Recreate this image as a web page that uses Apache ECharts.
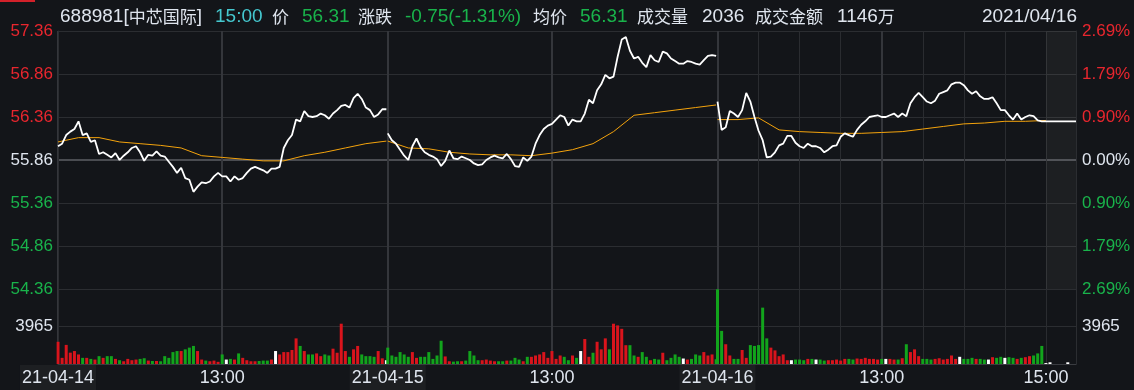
<!DOCTYPE html>
<html><head><meta charset="utf-8">
<script src="https://cdn.jsdelivr.net/npm/echarts@6/dist/echarts.min.js"></script>
<style>html,body{margin:0;padding:0;background:#131519;overflow:hidden}#c{width:1134px;height:390px}</style>
</head><body><div id="c"></div>
<script>
// ---------- data ----------
const dates = ['21-04-14', '21-04-15', '21-04-16'];
const preClose = 55.86;
const priceTicks = [54.36, 54.86, 55.36, 55.86, 56.36, 56.86, 57.36];
const volumeTicks = [0, 3965, 7930];
// price sampled every 3 minutes (0..240) for each day
const price1 = [56.02,56.05,56.15,56.19,56.22,56.31,56.15,56.17,56.07,56.09,
 55.93,55.95,55.92,55.89,55.94,55.86,55.91,55.95,56.00,56.02,
 55.95,55.85,55.92,55.91,55.96,55.91,55.90,55.84,55.78,55.71,
 55.77,55.65,55.63,55.49,55.55,55.60,55.59,55.61,55.67,55.71,
 55.67,55.67,55.61,55.67,55.63,55.65,55.71,55.76,55.78,55.76,
 55.74,55.71,55.76,55.76,55.78,56.00,56.09,56.15,56.33,56.31,
 56.43,56.37,56.36,56.37,56.40,56.38,56.34,56.40,56.44,56.49,
 56.50,56.47,56.58,56.63,56.57,56.47,56.44,56.36,56.39,56.45,56.45];
const price2 = [56.17,56.09,56.05,55.98,55.91,55.86,56.02,56.11,56.01,55.95,
 55.92,55.90,55.87,55.79,55.85,55.97,55.88,55.87,55.90,55.88,
 55.86,55.82,55.80,55.81,55.86,55.89,55.91,55.89,55.88,55.93,
 55.87,55.79,55.78,55.89,55.85,55.90,56.05,56.15,56.22,56.26,
 56.28,56.33,56.38,56.36,56.26,56.33,56.31,56.31,56.40,56.56,
 56.52,56.67,56.74,56.85,56.81,56.83,57.06,57.26,57.29,57.13,
 57.04,57.06,56.99,56.94,57.08,57.02,57.00,57.12,57.10,57.04,
 57.01,56.98,56.98,57.01,57.00,56.98,56.97,57.02,57.07,57.08,57.07];
const price3 = [56.54,56.21,56.24,56.43,56.40,56.36,56.44,56.64,56.54,56.36,
 56.20,56.09,55.89,55.90,55.95,56.03,56.05,56.14,56.14,56.06,
 56.02,56.00,56.05,56.02,56.02,56.00,55.95,55.98,56.02,56.03,
 56.13,56.17,56.15,56.13,56.21,56.27,56.31,56.36,56.37,56.38,
 56.36,56.36,56.38,56.40,56.36,56.40,56.37,56.52,56.59,56.64,
 56.59,56.54,56.52,56.55,56.63,56.65,56.67,56.74,56.76,56.76,
 56.73,56.67,56.63,56.66,56.60,56.57,56.57,56.59,56.52,56.44,
 56.44,56.38,56.33,56.40,56.33,56.36,56.38,56.37,56.32,56.31,56.31];
// average price sampled every 15 minutes
const avg1 = [56.07,56.12,56.12,56.07,56.05,56.03,56.00,55.91,55.89,55.87,55.85,55.85,55.91,55.95,56.00,56.05,56.08];
const avg2 = [56.08,56.00,55.99,55.95,55.93,55.92,55.92,55.91,55.94,55.98,56.05,56.19,56.38,56.41,56.44,56.47,56.50];
const avg3 = [56.33,56.33,56.35,56.21,56.19,56.18,56.17,56.17,56.18,56.19,56.22,56.25,56.28,56.29,56.31,56.31,56.32];
// volume sampled every 3 minutes
const vol1 = [2350,650,2020,1200,1370,1010,650,650,540,470,
 830,650,830,830,540,400,290,540,400,470,
 540,610,360,320,320,290,830,650,1260,1370,
 1370,1550,1730,1910,1370,470,360,290,360,230,
 1010,470,540,470,1120,650,400,290,290,320,
 360,360,470,1370,1010,1260,1260,1480,2710,1910,
 1370,1010,1010,1120,830,1010,900,1620,1190,4260,
 1370,760,1550,1910,1010,830,830,760,1370,600,400];
const vol2 = [1730,900,760,1260,1010,760,1260,650,760,760,
 1260,540,900,2460,800,290,250,290,290,360,
 1370,900,400,400,470,360,290,290,290,360,
 360,650,470,290,760,760,900,1010,1260,650,
 1370,540,900,760,400,900,650,1370,2640,760,
 1190,2350,1550,2710,1550,4260,4080,3720,1990,1990,
 900,760,1260,760,400,540,470,1190,400,650,
 1010,760,580,470,540,1010,900,1260,900,1010,500];
const vol3 = [7900,3500,2090,900,540,540,1480,650,2000,1910,
 2000,5960,2710,1730,1440,830,1010,400,400,470,
 470,400,540,540,470,470,360,400,400,470,
 360,540,540,470,580,540,650,540,540,470,
 540,540,540,470,470,610,2090,1260,1550,830,
 540,540,470,540,610,470,540,900,540,760,
 540,540,650,540,540,470,470,720,650,760,
 650,720,650,540,650,720,830,900,1120,1910,100];
// after-hours (15:09-15:30) fixed-price session
const afterPrice = [56.31, 56.31];
const afterVol = [0,0,180,0,0,0,0,0,0,0,0,0,0,0,0,180,0,0,0,0,0,0];
// header texts
const header = {code:'688981', name:'中芯国际', time:'15:00', price:'56.31', change:'-0.75(-1.31%)',
  avg:'56.31', volume:'2036', amount:'1146', date:'2021/04/16'};

// ---------- categories (minute slots) ----------
const SLOTS = 241, STEP = 3, AVG_STEP = 15;
const hm = t => String(Math.floor(t/60)).padStart(2,'0') + ':' + String(t%60).padStart(2,'0');
const categories = [];
dates.forEach(d => { for (let m = 0; m < SLOTS; m++) { const t = m <= 120 ? 570 + m : 780 + (m - 120); categories.push(d + ' ' + hm(t)); } });
for (let j = 0; j < afterVol.length; j++) categories.push(dates[2] + ' ' + hm(909 + j));
const lastIdx = categories.length - 1;
const close3Idx = 2 * SLOTS + 240;

const labelText = {};
dates.forEach((d, i) => { labelText[i * SLOTS] = '{d|' + d + '}'; labelText[i * SLOTS + 120] = '{t|13:00}'; });
labelText[close3Idx] = '{t|15:00}';
const major = new Set([0, 120, 241, 361, 482, 602]);
const minor = new Set([512, 542, 572, 632, 662, 692, 722]);

// ---------- colours ----------
const BG = '#131519', GRID = '#2b2d31', RED = '#e8262e', GREEN = '#19b34b', WHITE = '#dfe5ee';
const VRED = '#d9141c', VGREEN = '#12a41c';

const prices = [price1, price2, price3];
const avgs = [avg1, avg2, avg3];
const vols = [vol1, vol2, vol3];

const series = [];
avgs.forEach((a, d) => series.push({
  type: 'line', xAxisIndex: 0, yAxisIndex: 0, symbol: 'none', silent: true, z: 3,
  lineStyle: {color: '#f4a30c', width: 1},
  data: a.map((v, k) => [d * SLOTS + k * AVG_STEP, +(v - preClose).toFixed(4)])
}));
prices.forEach((p, d) => {
  const data = p.map((v, k) => [d * SLOTS + k * STEP, +(v - preClose).toFixed(4)]);
  if (d === 2) { data.push([close3Idx + 1, afterPrice[0] - preClose]); data.push([lastIdx, afterPrice[1] - preClose]); }
  const s = {type: 'line', xAxisIndex: 0, yAxisIndex: 0, symbol: 'none', silent: true, z: 4,
    lineStyle: {color: '#ffffff', width: 1.8}, data};
  if (d === 2) s.markArea = {silent: true, itemStyle: {color: 'rgba(255,255,255,0.045)'},
    data: [[{xAxis: categories[close3Idx]}, {xAxis: categories[lastIdx]}]]};
  series.push(s);
});
const volData = [];
vols.forEach((vs, d) => {
  vs.forEach((v, k) => {
    const cur = prices[d][k];
    const prev = k > 0 ? prices[d][k - 1] : (d > 0 ? prices[d - 1][prices[d - 1].length - 1] : preClose);
    const c = cur > prev ? VRED : (cur < prev ? VGREEN : '#ffffff');
    volData.push({value: [d * SLOTS + k * STEP, v], itemStyle: {color: c}});
  });
});
afterVol.forEach((v, j) => volData.push({value: [close3Idx + 1 + j, v], itemStyle: {color: '#ffffff'}}));
series.push({type: 'bar', xAxisIndex: 2, yAxisIndex: 3, barWidth: 3, silent: true, data: volData,
  markArea: {silent: true, itemStyle: {color: 'rgba(255,255,255,0.045)'},
    data: [[{xAxis: categories[close3Idx]}, {xAxis: categories[lastIdx]}]]}});

const FONT = '"Liberation Sans", Arial, sans-serif';
const CJK = '"Noto Sans CJK SC", sans-serif';
const priceColor = v => v > 1e-6 ? RED : (v < -1e-6 ? GREEN : WHITE);
const lo = priceTicks[0] - preClose, hi = priceTicks[priceTicks.length - 1] - preClose;
const stepP = +(priceTicks[1] - priceTicks[0]).toFixed(2);

function xAx(grid, pos, set, style, labels) {
  return {type: 'category', gridIndex: grid, position: pos, data: categories, boundaryGap: false,
    axisTick: {show: false},
    axisLine: {show: labels, lineStyle: {color: '#3a3c41', width: 1}},
    axisLabel: labels ? {show: true, interval: i => labelText[i] !== undefined, formatter: (v, i) => labelText[i] || '',
      margin: 1, color: WHITE, fontFamily: FONT, fontSize: 18,
      rich: {d: {fontFamily: FONT, fontSize: 18, color: WHITE, backgroundColor: '#1d1f22', padding: [4, 2, 3, 2]},
             t: {fontFamily: FONT, fontSize: 18, color: WHITE, padding: [4, 0, 3, 0]}}} : {show: false},
    splitLine: {show: true, interval: i => set.has(i), lineStyle: style}};
}
const majorStyle = {color: '#34363b', width: 2};
const minorStyle = {color: '#2a2c30', width: 1};

const txt = (x, text, fill, font, align) => ({type: 'text', x, y: 17, silent: true,
  style: {text, fill, font, align: align || 'left', verticalAlign: 'middle'}});
const L = '19px ' + FONT, C = '17px ' + CJK;

const option = {
  backgroundColor: BG, animation: false,
  grid: [{left: 58, right: 58, top: 31, height: 258}, {left: 58, right: 58, top: 289, height: 75}],
  xAxis: [xAx(0, 'bottom', major, majorStyle, false), xAx(0, 'top', minor, minorStyle, false),
          xAx(1, 'bottom', major, majorStyle, true), xAx(1, 'top', minor, minorStyle, false)],
  yAxis: [
    {type: 'value', gridIndex: 0, position: 'left', min: lo, max: hi, interval: stepP,
      axisLine: {show: true, lineStyle: {color: GRID}}, axisTick: {show: false},
      axisLabel: {margin: 5, fontFamily: FONT, fontSize: 17, formatter: v => (v + preClose).toFixed(2), color: v => priceColor(+v)},
      splitLine: {lineStyle: {color: GRID, width: 1}}},
    {type: 'value', gridIndex: 0, position: 'right', min: lo, max: hi, interval: stepP,
      axisLine: {show: true, lineStyle: {color: GRID}}, axisTick: {show: false},
      axisLabel: {margin: 6, fontFamily: FONT, fontSize: 17, formatter: v => Math.abs(v / preClose * 100).toFixed(2) + '%', color: v => priceColor(+v)},
      splitLine: {show: false}},
    {type: 'value', gridIndex: 0, position: 'left', min: lo, max: hi, interval: hi,
      axisLine: {show: false}, axisTick: {show: false}, axisLabel: {show: false},
      splitLine: {lineStyle: {color: ['rgba(0,0,0,0)', '#4a4c51', 'rgba(0,0,0,0)'], width: 2}}},
    {type: 'value', gridIndex: 1, position: 'left', min: volumeTicks[0], max: volumeTicks[2], interval: volumeTicks[1],
      axisLine: {show: true, lineStyle: {color: GRID}}, axisTick: {show: false},
      axisLabel: {margin: 5, fontFamily: FONT, fontSize: 17, color: WHITE, formatter: v => v === volumeTicks[1] ? String(v) : ''},
      splitLine: {lineStyle: {color: GRID, width: 1}}},
    {type: 'value', gridIndex: 1, position: 'right', min: volumeTicks[0], max: volumeTicks[2], interval: volumeTicks[1],
      axisLine: {show: true, lineStyle: {color: GRID}}, axisTick: {show: false},
      axisLabel: {margin: 6, fontFamily: FONT, fontSize: 17, color: WHITE, formatter: v => v === volumeTicks[1] ? String(v) : ''},
      splitLine: {show: false}}
  ],
  graphic: [
    {type: 'rect', shape: {x: 0, y: 0, width: 35, height: 2}, style: {fill: '#d3212a'}, silent: true},
    {type: 'text', x: 60, y: 17, silent: true, style: {text: '{a|' + header.code + '[}{b|' + header.name + '}{a|]}', verticalAlign: 'middle',
      rich: {a: {font: L, fill: WHITE}, b: {font: C, fill: WHITE}}}},
    txt(215, header.time, '#45c8cf', L),
    txt(272, '价', WHITE, C),
    txt(302, header.price, GREEN, L),
    txt(358, '涨跌', WHITE, C),
    txt(405, header.change, GREEN, L),
    txt(533, '均价', WHITE, C),
    txt(580, header.avg, GREEN, L),
    txt(637, '成交量', WHITE, C),
    txt(702, header.volume, WHITE, L),
    txt(755, '成交金额', WHITE, C),
    {type: 'text', x: 837, y: 17, silent: true, style: {text: '{a|' + header.amount + '}{b|万}', verticalAlign: 'middle',
      rich: {a: {font: L, fill: WHITE}, b: {font: C, fill: WHITE}}}},
    txt(1077, header.date, WHITE, L, 'right')
  ],
  series
};
const chart = echarts.init(document.getElementById('c'), null, {renderer: 'canvas'});
chart.setOption(option);
</script>
</body></html>
